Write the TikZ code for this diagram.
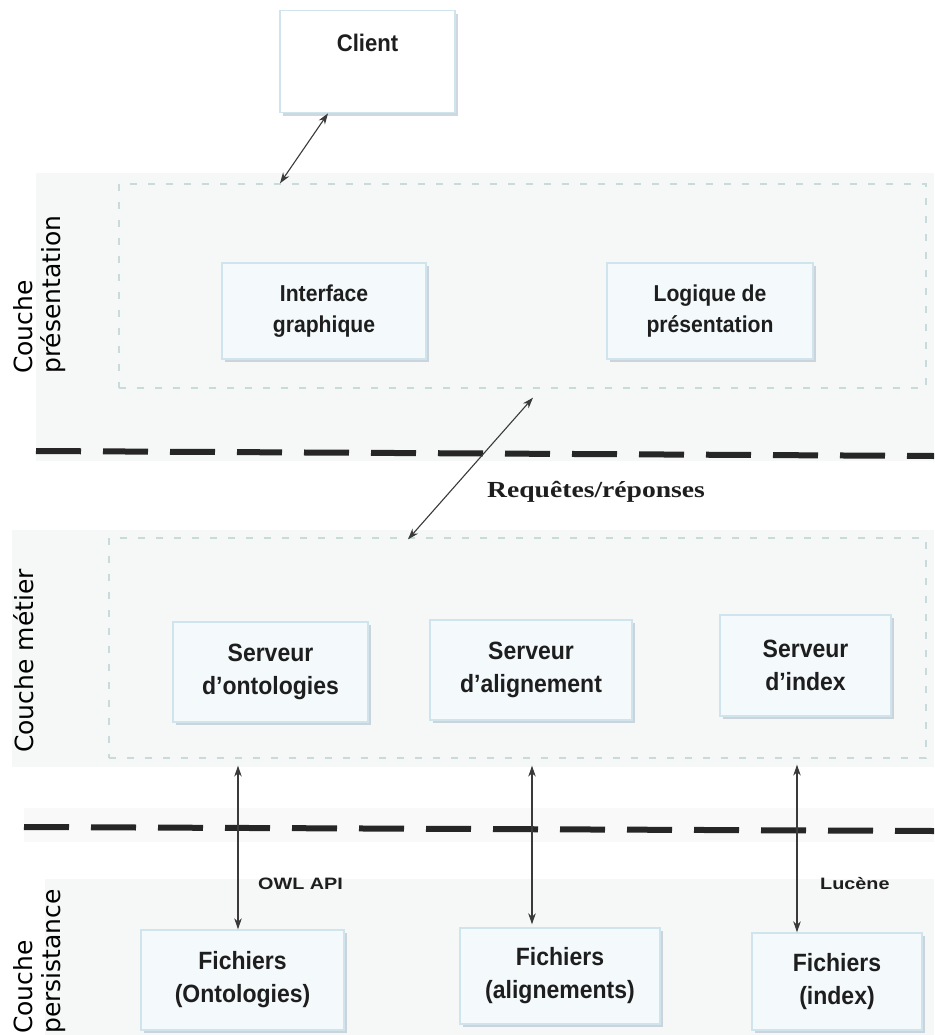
\documentclass[tikz,border=0pt]{standalone}
\usepackage{fontspec}
\setmainfont{Liberation Sans}
\newfontfamily\layerfont{DejaVu Sans}
\newfontfamily\captionfont{Liberation Serif}[FakeStretch=1.2]
\newfontfamily\apifont{Liberation Sans}[FakeStretch=1.2]
\newfontfamily\boxfont{Liberation Sans}[FakeStretch=0.92]
\usetikzlibrary{arrows.meta,shadows}

\definecolor{bandgray}{HTML}{F6F7F7}
\definecolor{faintgray}{HTML}{F9F9F9}
\definecolor{zoneline}{HTML}{C9DADA}
\definecolor{boxfill}{HTML}{F4F9FC}
\definecolor{boxline}{HTML}{D0E4EE}
\definecolor{boxshadow}{HTML}{A9B8C4}
\definecolor{inkgray}{HTML}{1E1E1E}
\definecolor{arrowgray}{HTML}{3A3A3A}

\tikzset{
  band/.style={fill=bandgray, draw=none},
  zone/.style={draw=zoneline, line width=1.3pt, dash pattern=on 7pt off 11pt,
               fill=none, inner sep=0pt},
  compbox/.style={draw=boxline, line width=1.4pt, fill=boxfill, inner sep=0pt,
                  align=center, text=inkgray,
                  font=\boxfont\bfseries\fontsize{23}{31}\selectfont,
                  drop shadow={fill=boxshadow, opacity=0.55,
                               shadow xshift=2.5pt, shadow yshift=-3pt}},
  bigbox/.style={compbox, font=\boxfont\bfseries\fontsize{25}{33}\selectfont},
  separator/.style={line width=6pt, draw=black!85, dash pattern=on 45pt off 22pt},
  link/.style={draw=arrowgray, line width=1.1pt,
               {Stealth[length=11pt,width=7.5pt]}-{Stealth[length=11pt,width=7.5pt]}},
  layer/.style={rotate=90, anchor=west, align=left, inner sep=0pt, text=black,
                font=\layerfont\fontsize{25}{28}\selectfont},
  apilabel/.style={anchor=west, inner sep=0pt, text=inkgray,
                   font=\apifont\bfseries\fontsize{16.5}{19}\selectfont},
}

\begin{document}
\begin{tikzpicture}[x=1pt, y=-1pt]
  \useasboundingbox[fill=white] (0,0) rectangle (934,1035);

  % layer backgrounds
  \fill[band] (36,173) rectangle (934,461);
  \fill[band] (12,530) rectangle (934,767);
  \fill[faintgray] (24,808) rectangle (934,842);
  \fill[band] (45,879) rectangle (934,1035);

  % client
  \node[compbox, font=\boxfont\bfseries\fontsize{24}{28}\selectfont,
        fill=white, minimum width=175pt, text height=41pt, text depth=61pt,
        anchor=north] (client) at (367.5,10) {Client};

  % presentation layer
  \node[zone, minimum width=807pt, minimum height=204pt] (pres) at (522.5,286) {};
  \node[compbox, minimum width=204pt, minimum height=96pt] (gui) at (324,311)
        {Interface\\graphique};
  \node[compbox, minimum width=206pt, minimum height=96pt] (logic) at (710,311)
        {Logique de\\présentation};
  \node[layer] (lpres) at (40,374) {Couche\\présentation};

  \draw[separator] (36,451) -- (934,456);

  % business layer
  \node[zone, minimum width=817pt, minimum height=220pt] (met) at (517.5,648) {};
  \node[bigbox, minimum width=195pt, minimum height=100pt] (sonto) at (270.5,672)
        {Serveur\\d’ontologies};
  \node[bigbox, minimum width=202pt, minimum height=100pt] (salign) at (531,670)
        {Serveur\\d’alignement};
  \node[bigbox, minimum width=171pt, minimum height=101pt] (sindex) at (805.5,665.5)
        {Serveur\\d’index};
  \node[layer] (lmet) at (24,753) {Couche métier};

  \draw[separator] (24,827) -- (934,831);

  % persistence layer
  \node[bigbox, minimum width=203pt, minimum height=100pt] (fonto) at (242.5,980)
        {Fichiers\\(Ontologies)};
  \node[bigbox, minimum width=200pt, minimum height=96pt] (falign) at (560,976)
        {Fichiers\\(alignements)};
  \node[bigbox, minimum width=170pt, minimum height=97pt] (findex) at (837,981.5)
        {Fichiers\\(index)};
  \node[layer] (lpers) at (40,1034) {Couche\\persistance};

  % connectors
  \draw[link] ([xshift=-39.5pt]client.south) -- ([xshift=-242.5pt]pres.north);
  \draw[link] ([xshift=10.5pt,yshift=-9pt]pres.south)
           -- ([xshift=-109.5pt,yshift=-2pt]met.north);
  \node[anchor=west, inner sep=0pt, text=inkgray,
        font=\captionfont\bfseries\fontsize{23}{27}\selectfont] (req) at (487,492)
        {Requêtes/réponses};

  \draw[link] ([xshift=-279.5pt,yshift=-7pt]met.south) -- ([xshift=-4.5pt]fonto.north);
  \draw[link] ([xshift=14.5pt,yshift=-7pt]met.south) -- ([xshift=-28pt,yshift=3pt]falign.north);
  \draw[link] ([xshift=279.5pt,yshift=-6pt]met.south) -- ([xshift=-40pt]findex.north);

  \node[apilabel] (owl) at (258,884) {OWL API};
  \node[apilabel] (lucene) at (820,884) {Lucène};
\end{tikzpicture}
\end{document}
